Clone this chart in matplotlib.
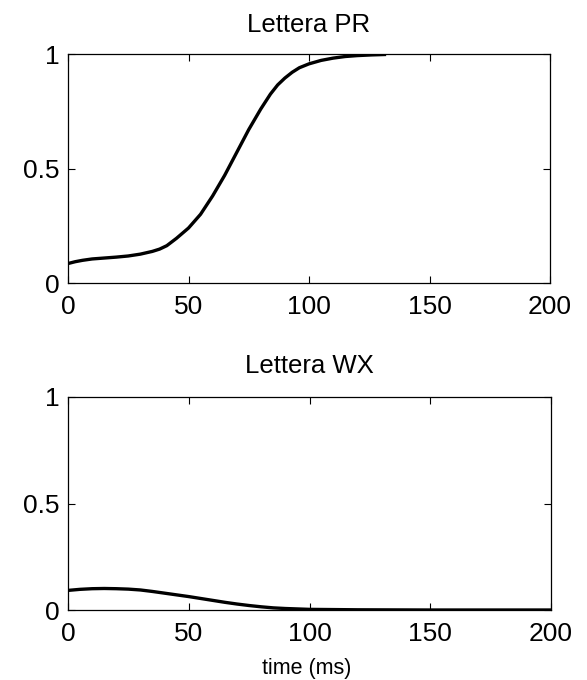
import matplotlib
matplotlib.use("Agg")
import matplotlib.pyplot as plt
from matplotlib import font_manager
import numpy as np

# Lettera PR (top)
t_pr = [0, 3, 6, 10, 15, 20, 25, 30, 35, 38, 41, 45, 50, 55, 60, 65, 70, 75, 80, 84, 87, 90, 93, 96, 100, 105, 110, 115, 120, 126, 132]
v_pr = [0.085, 0.093, 0.099, 0.105, 0.109, 0.113, 0.118, 0.126, 0.138, 0.148, 0.163, 0.195, 0.24, 0.30, 0.38, 0.47, 0.57, 0.67, 0.76, 0.825, 0.865, 0.895, 0.92, 0.94, 0.957, 0.972, 0.982, 0.989, 0.993, 0.996, 0.998]

# Lettera WX (bottom)
t_wx = [0, 5, 10, 15, 20, 25, 30, 35, 40, 45, 50, 55, 60, 65, 70, 75, 80, 85, 90, 95, 100, 110, 120, 150, 200]
v_wx = [0.092, 0.097, 0.100, 0.101, 0.100, 0.098, 0.094, 0.087, 0.079, 0.071, 0.063, 0.054, 0.045, 0.036, 0.028, 0.021, 0.015, 0.010, 0.007, 0.005, 0.003, 0.002, 0.001, 0.0, 0.0]

titles = ["Lettera PR", "Lettera WX"]
xticks = [0, 50, 100, 150, 200]
yticks = [0, 0.5, 1]
yticklabels = ["0", "0.5", "1"]
xlabel = "time (ms)"

plt.rcParams['font.family'] = ['Liberation Sans', 'DejaVu Sans']

names = {f.name for f in font_manager.fontManager.ttflist}
narrow = 'Liberation Sans Narrow' if 'Liberation Sans Narrow' in names else (
    'DejaVu Sans Condensed' if 'DejaVu Sans Condensed' in names else 'Liberation Sans')

W, H = 587, 680
fig = plt.figure(figsize=(W / 100, H / 100), dpi=100)
ax1 = fig.add_axes([68 / W, 1 - 283 / H, 482 / W, 229 / H])
ax2 = fig.add_axes([68 / W, 1 - 610 / H, 483 / W, 213 / H])

for ax, t, v, title, tpad in [(ax1, t_pr, v_pr, titles[0], 16), (ax2, t_wx, v_wx, titles[1], 17)]:
    ax.plot(t, v, color='black', linewidth=2.4, solid_capstyle='butt', solid_joinstyle='round')
    ax.set_xlim(0, 200)
    ax.set_ylim(0, 1)
    ax.set_xticks(xticks)
    ax.set_xticklabels([str(x) for x in xticks])
    ax.set_yticks(yticks)
    ax.set_yticklabels(yticklabels)
    ax.tick_params(direction='in', length=5, width=0.8, top=True, right=True,
                   labelsize=19)
    ax.tick_params(axis='x', pad=8.5)
    ax.tick_params(axis='y', pad=6)
    ax.set_title(title, fontsize=18.5, pad=tpad)
    for s in ax.spines.values():
        s.set_linewidth(0.9)

fig.text(307 / W, 1 - 674 / H, xlabel, fontsize=15.5, family=[narrow, 'DejaVu Sans'],
         ha='center', va='baseline')

fig.savefig("out.png", dpi=100)
